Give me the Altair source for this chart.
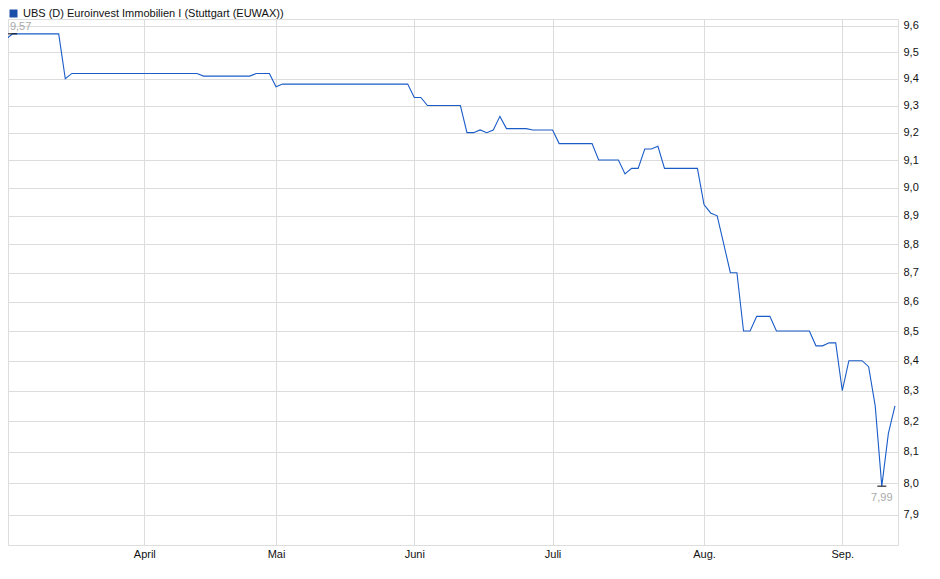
import altair as alt
import pandas as pd

# trading-day index (0 = first trading day shown) and price, vertices
day_index = [0, 1, 8, 9, 10, 29, 30, 37, 38, 40, 41, 42, 61, 62, 63, 64, 69, 70, 71, 72,
             73, 74, 75, 76, 79, 80, 83, 84, 89, 90, 93, 94, 95, 96, 97, 98, 99, 100, 105,
             106, 107, 108, 109, 110, 111, 112, 113, 114, 116, 117, 122, 123, 124, 125,
             126, 127, 128, 130, 131, 132, 133, 134, 135]
price = [9.55, 9.57, 9.57, 9.40, 9.42, 9.42, 9.41, 9.41, 9.42, 9.42, 9.37, 9.38, 9.38,
         9.33, 9.33, 9.30, 9.30, 9.20, 9.20, 9.21, 9.20, 9.21, 9.26, 9.215, 9.215, 9.21,
         9.21, 9.16, 9.16, 9.10, 9.10, 9.05, 9.07, 9.07, 9.14, 9.14, 9.15, 9.07, 9.07,
         8.94, 8.91, 8.90, 8.80, 8.70, 8.70, 8.50, 8.50, 8.55, 8.55, 8.50, 8.50, 8.45,
         8.45, 8.46, 8.46, 8.30, 8.40, 8.40, 8.38, 8.25, 7.99, 8.16, 8.25]

month_ticks = [21, 41, 62, 83, 106, 127]
month_labels = ["April", "Mai", "Juni", "Juli", "Aug.", "Sep."]
y_ticks = [7.9, 8.0, 8.1, 8.2, 8.3, 8.4, 8.5, 8.6, 8.7, 8.8, 8.9, 9.0, 9.1, 9.2, 9.3, 9.4, 9.5, 9.6]
series_name = "UBS (D) Euroinvest Immobilien I (Stuttgart (EUWAX))"

df = pd.DataFrame({"idx": day_index, "price": price, "series": series_name})
imax = df["price"].idxmax()
imin = df["price"].idxmin()
df_max = df.loc[[imax]].copy()
df_min = df.loc[[imin]].copy()
df_max["label"] = df_max["price"].map(lambda v: f"{v:.2f}".replace(".", ","))
df_min["label"] = df_min["price"].map(lambda v: f"{v:.2f}".replace(".", ","))

FONT = "Liberation Sans"
GRID = "#dcdcdc"

label_expr = ""
for v, l in zip(month_ticks, month_labels):
    label_expr += f"datum.value == {v} ? '{l}' : "
label_expr += "''"

x_scale = alt.Scale(domain=[0.30, 135.46], nice=False, zero=False)
y_scale = alt.Scale(type="log", domain=[7.8046, 9.6268], nice=False, zero=False)

x_enc = alt.X("idx:Q", scale=x_scale,
              axis=alt.Axis(values=month_ticks, labelExpr=label_expr, title=None,
                            ticks=False, domain=False, grid=True, gridColor=GRID,
                            labelFont=FONT, labelFontSize=11, labelColor="#111",
                            labelPadding=3, labelBaseline="top", labelFlush=False))
y_enc = alt.Y("price:Q", scale=y_scale,
              axis=alt.Axis(orient="right", values=y_ticks,
                            labelExpr="replace(format(datum.value, '.1f'), '.', ',')",
                            title=None, ticks=False, domain=False, grid=True, gridColor=GRID,
                            labelFont=FONT, labelFontSize=11, labelColor="#111",
                            labelPadding=5, labelBaseline="middle"))

line = alt.Chart(df).mark_line(strokeWidth=1.1, clip=True, interpolate="linear").encode(
    x=x_enc,
    y=y_enc,
    color=alt.Color("series:N",
                    scale=alt.Scale(range=["#1a5cc8"]),
                    legend=alt.Legend(orient="none", legendX=0, legendY=-11, title=None,
                                      symbolType="square", symbolSize=64,
                                      symbolFillColor="#1c4fa8", symbolStrokeWidth=0,
                                      labelFont=FONT, labelFontSize=11, labelColor="#111",
                                      labelOffset=4, labelLimit=600, padding=0)),
)

marks_ext = alt.Chart(pd.concat([df_max, df_min])).mark_rule(
    color="#000", strokeWidth=1, xOffset=-4.5, x2Offset=4.5).encode(
    x=alt.X("idx:Q", scale=x_scale), x2="idx:Q", y=alt.Y("price:Q", scale=y_scale))

txt_max = alt.Chart(df_max).mark_text(
    font=FONT, fontSize=11, color="#a9a9a9", baseline="alphabetic", dy=-4, dx=8).encode(
    x=alt.X("idx:Q", scale=x_scale), y=alt.Y("price:Q", scale=y_scale), text="label:N")

txt_min = alt.Chart(df_min).mark_text(
    font=FONT, fontSize=11, color="#a9a9a9", baseline="alphabetic", dy=15).encode(
    x=alt.X("idx:Q", scale=x_scale), y=alt.Y("price:Q", scale=y_scale), text="label:N")

chart = alt.layer(line, marks_ext, txt_max, txt_min).properties(
    width=890, height=526,
    autosize=alt.AutoSizeParams(type="none"),
    padding={"left": 0, "top": 11, "right": 34, "bottom": 26},
).configure_view(stroke=GRID, strokeWidth=1).configure(background="white")

chart.save("out.html", embed_options={"renderer": "svg", "actions": False})
